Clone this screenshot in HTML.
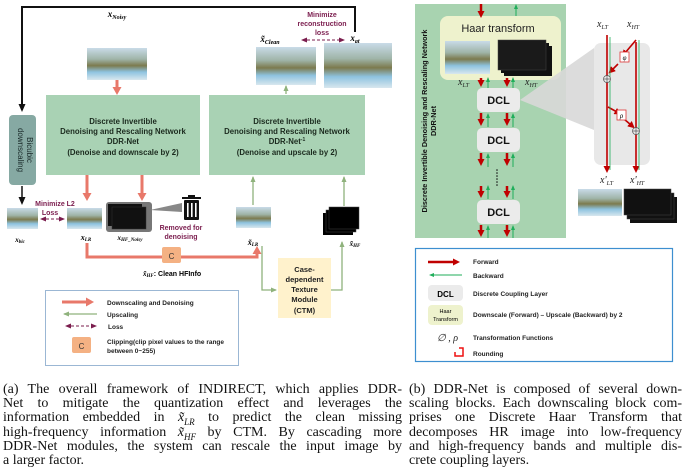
<!DOCTYPE html>
<html><head><meta charset="utf-8"><style>
html,body{margin:0;padding:0;background:#fff;width:685px;height:469px;overflow:hidden;position:relative}
svg{position:absolute;left:0;top:0}
.cap{position:absolute;font-family:"Liberation Serif",serif;font-size:14px;line-height:14.2px;color:#111}
.cap div{text-align:justify;text-align-last:justify;white-space:nowrap;height:14.2px}
.cap div.l{text-align-last:left}
.cap i{font-style:italic}
</style></head><body>
<svg width="685" height="469" viewBox="0 0 685 469" font-family="Liberation Sans, sans-serif">
<defs>
<linearGradient id="ls" x1="0" y1="0" x2="0" y2="1">
<stop offset="0" stop-color="#c9dbe8"/><stop offset="0.35" stop-color="#9fb4a8"/><stop offset="0.55" stop-color="#7c7a4e"/><stop offset="0.75" stop-color="#8ec3e0"/><stop offset="1" stop-color="#d8e7ee"/>
</linearGradient>
<marker id="ar" markerUnits="userSpaceOnUse" markerWidth="10" markerHeight="10" refX="2" refY="5" orient="auto"><path d="M0,0.5L8,5L0,9.5z" fill="#e8786a"/></marker>
<marker id="ag" markerUnits="userSpaceOnUse" markerWidth="6" markerHeight="6" refX="5" refY="3" orient="auto"><path d="M0,0.5L6,3L0,5.5z" fill="#8fb27c"/></marker>
<marker id="ak" markerUnits="userSpaceOnUse" markerWidth="8" markerHeight="8" refX="6" refY="4" orient="auto"><path d="M0,0.5L8,4L0,7.5z" fill="#111"/></marker>
<marker id="ap" markerUnits="userSpaceOnUse" markerWidth="6" markerHeight="6" refX="5" refY="3" orient="auto"><path d="M0,0.5L6,3L0,5.5z" fill="#7b1d4e"/></marker>
<marker id="ap2" markerUnits="userSpaceOnUse" markerWidth="6" markerHeight="6" refX="1" refY="3" orient="auto"><path d="M6,0.5L0,3L6,5.5z" fill="#7b1d4e"/></marker>
<marker id="rr" markerUnits="userSpaceOnUse" markerWidth="7" markerHeight="7" refX="2" refY="3.5" orient="auto"><path d="M0,0L7,3.5L0,7z" fill="#c00000"/></marker>
<marker id="gg" markerUnits="userSpaceOnUse" markerWidth="5" markerHeight="5" refX="4" refY="2.5" orient="auto"><path d="M0,0.5L5,2.5L0,4.5z" fill="#1fae5a"/></marker>
</defs>

<!-- LEFT PANEL -->
<path d="M355,32 V7 H22 V110" fill="none" stroke="#111" stroke-width="2" marker-end="url(#ak)"/>
<rect x="9" y="115" width="27" height="70" rx="4" fill="#86a9a3"/>
<text transform="translate(27,150) rotate(90)" font-size="8" text-anchor="middle" fill="#1a2a2a">Bicubic</text>
<text transform="translate(18,150) rotate(90)" font-size="8" text-anchor="middle" fill="#1a2a2a">downscaling</text>
<line x1="22" y1="186" x2="22" y2="203" stroke="#111" stroke-width="1.5" marker-end="url(#ak)"/>

<text x="117" y="17" font-family="Liberation Serif,serif" font-weight="bold" font-style="italic" font-size="9" text-anchor="middle">x<tspan font-size="6" dy="2">Noisy</tspan></text>
<rect x="87" y="48" width="60" height="32" fill="url(#ls)"/>
<line x1="117" y1="80" x2="117" y2="89" stroke="#e8786a" stroke-width="3" marker-end="url(#ar)"/>

<rect x="46" y="95" width="154" height="80" fill="#a9d2b4"/>
<g font-size="7.8" font-weight="bold" text-anchor="middle" fill="#1b2a1e">
<text x="123" y="124">Discrete Invertible</text>
<text x="123" y="134">Denoising and Rescaling Network</text>
<text x="123" y="144">DDR-Net</text>
<text x="123" y="155">(Denoise and downscale by 2)</text>
</g>
<rect x="209" y="95" width="156" height="80" fill="#a9d2b4"/>
<g font-size="7.8" font-weight="bold" text-anchor="middle" fill="#1b2a1e">
<text x="287" y="124">Discrete Invertible</text>
<text x="287" y="134">Denoising and Rescaling Network</text>
<text x="287" y="144">DDR-Net<tspan font-size="5" dy="-3">-1</tspan></text>
<text x="287" y="155">(Denoise and upscale by 2)</text>
</g>

<text x="322" y="17" font-size="7" font-weight="bold" fill="#7b1d4e" text-anchor="middle">Minimize</text>
<text x="322" y="26" font-size="7" font-weight="bold" fill="#7b1d4e" text-anchor="middle">reconstruction</text>
<text x="322" y="35" font-size="7" font-weight="bold" fill="#7b1d4e" text-anchor="middle">loss</text>
<line x1="302" y1="40" x2="344" y2="40" stroke="#7b1d4e" stroke-width="1" stroke-dasharray="3,2" marker-end="url(#ap)" marker-start="url(#ap2)"/>
<text x="270" y="42" font-family="Liberation Serif,serif" font-weight="bold" font-style="italic" font-size="9" text-anchor="middle">x̃<tspan font-size="6" dy="2">Clean</tspan></text>
<text x="355" y="41" font-family="Liberation Serif,serif" font-weight="bold" font-style="italic" font-size="9" text-anchor="middle">x<tspan font-size="6" dy="2">gt</tspan></text>
<rect x="256" y="47" width="60" height="38" fill="url(#ls)"/>
<rect x="324" y="43" width="68" height="45" fill="url(#ls)"/>
<line x1="286" y1="94" x2="286" y2="86" stroke="#8fb27c" stroke-width="1.3" marker-end="url(#ag)"/>

<line x1="87" y1="175" x2="87" y2="195" stroke="#e8786a" stroke-width="3" marker-end="url(#ar)"/>
<line x1="142" y1="175" x2="142" y2="195" stroke="#e8786a" stroke-width="3" marker-end="url(#ar)"/>

<text x="55" y="206" font-size="7" font-weight="bold" fill="#7b1d4e" text-anchor="middle">Minimize L2</text>
<text x="50" y="215" font-size="7" font-weight="bold" fill="#7b1d4e" text-anchor="middle">Loss</text>
<line x1="41" y1="219" x2="64" y2="219" stroke="#7b1d4e" stroke-width="1" stroke-dasharray="3,2" marker-end="url(#ap)" marker-start="url(#ap2)"/>
<rect x="7" y="208" width="31" height="21" fill="url(#ls)"/>
<text x="20" y="242" font-family="Liberation Serif,serif" font-weight="bold" font-style="italic" font-size="7" text-anchor="middle">x<tspan font-size="5" dy="1">bic</tspan></text>
<rect x="67" y="208" width="35" height="21" fill="url(#ls)"/>
<text x="86" y="240" font-family="Liberation Serif,serif" font-weight="bold" font-style="italic" font-size="8" text-anchor="middle">x<tspan font-size="5" dy="1">LR</tspan></text>
<rect x="106" y="202" width="46" height="30" rx="3" fill="#777"/>
<rect x="108" y="204" width="34" height="22" fill="#111"/>
<rect x="112" y="207" width="34" height="22" fill="#111" stroke="#333" stroke-width=".5"/>
<text x="130" y="240" font-family="Liberation Serif,serif" font-weight="bold" font-style="italic" font-size="7" text-anchor="middle">x<tspan font-size="5" dy="1">HF_Noisy</tspan></text>
<path d="M150,210 L182,203 L182,212 Z" fill="#888"/>
<g fill="#111"><rect x="182" y="197" width="19" height="2"/><rect x="188" y="195" width="7" height="2"/><rect x="184" y="200" width="15" height="20" rx="1"/></g>
<g fill="#fff"><rect x="187" y="203" width="1.6" height="14"/><rect x="191" y="203" width="1.6" height="14"/><rect x="195" y="203" width="1.6" height="14"/></g>
<text x="181" y="230" font-size="7" font-weight="bold" fill="#7b1d4e" text-anchor="middle">Removed for</text>
<text x="181" y="239" font-size="7" font-weight="bold" fill="#7b1d4e" text-anchor="middle">denoising</text>

<path d="M87,243 V257 H257 V252" fill="none" stroke="#e8786a" stroke-width="3" marker-end="url(#ar)"/>
<rect x="162" y="247" width="19" height="16" rx="2" fill="#f4b183"/>
<text x="171.5" y="259" font-size="8" text-anchor="middle" fill="#333">C</text>
<text x="143" y="276" font-family="Liberation Serif,serif" font-style="italic" font-weight="bold" font-size="7">x̃<tspan font-size="5" dy="1">HF</tspan><tspan dy="-1" font-family="Liberation Sans,sans-serif" font-style="normal">: Clean HFInfo</tspan></text>

<rect x="236" y="207" width="35" height="21" fill="url(#ls)"/>
<text x="253" y="245" font-family="Liberation Serif,serif" font-weight="bold" font-style="italic" font-size="8" text-anchor="middle">x̃<tspan font-size="5" dy="1">LR</tspan></text>
<line x1="253" y1="205" x2="253" y2="177" stroke="#8fb27c" stroke-width="1.3" marker-end="url(#ag)"/>
<line x1="344" y1="206" x2="344" y2="177" stroke="#8fb27c" stroke-width="1.3" marker-end="url(#ag)"/>
<rect x="323" y="213" width="30" height="22" fill="#000"/>
<rect x="326" y="210" width="30" height="22" fill="#000" stroke="#444" stroke-width=".5"/>
<rect x="329" y="207" width="30" height="22" fill="#000" stroke="#444" stroke-width=".5"/>
<text x="355" y="246" font-family="Liberation Serif,serif" font-weight="bold" font-style="italic" font-size="7" text-anchor="middle">x̃<tspan font-size="5" dy="1">HF</tspan></text>

<path d="M262,246 V290 H276" fill="none" stroke="#8fb27c" stroke-width="1.3" marker-end="url(#ag)"/>
<path d="M331,290 H342 V242" fill="none" stroke="#8fb27c" stroke-width="1.3" marker-end="url(#ag)"/>
<rect x="278" y="258" width="53" height="60" fill="#fff2cc"/>
<g font-size="7.5" font-weight="bold" text-anchor="middle" fill="#222">
<text x="304.5" y="272">Case-</text><text x="304.5" y="282">dependent</text><text x="304.5" y="292">Texture</text><text x="304.5" y="302">Module</text><text x="304.5" y="313">(CTM)</text>
</g>

<rect x="45.5" y="290.5" width="193" height="75" fill="#fff" stroke="#9bb7d4" stroke-width="1"/>
<line x1="62" y1="302" x2="88" y2="302" stroke="#e8786a" stroke-width="3" marker-end="url(#ar)"/>
<line x1="97" y1="314" x2="64" y2="314" stroke="#8fb27c" stroke-width="1.3" marker-end="url(#ag)"/>
<line x1="66" y1="326" x2="96" y2="326" stroke="#7b1d4e" stroke-width="1" stroke-dasharray="3,2" marker-end="url(#ap)" marker-start="url(#ap2)"/>
<rect x="72" y="337" width="19" height="16" rx="2" fill="#f4b183"/>
<text x="81.5" y="349" font-size="8" text-anchor="middle" fill="#333">C</text>
<g font-size="6.5" font-weight="bold" fill="#222">
<text x="107" y="305">Downscaling and Denoising</text>
<text x="107" y="317">Upscaling</text>
<text x="108" y="329">Loss</text>
<text x="107" y="344">Clipping(clip pixel values to the range</text>
<text x="107" y="353">between 0~255)</text>
</g>

<!-- RIGHT PANEL -->
<rect x="415" y="4" width="151" height="234" fill="#a8d3b0"/>
<text transform="translate(427,121) rotate(-90)" font-size="7.3" font-weight="bold" text-anchor="middle" fill="#111">Discrete Invertible Denoising and Rescaling Network</text>
<text transform="translate(436,121) rotate(-90)" font-size="7.3" font-weight="bold" text-anchor="middle" fill="#111">DDR-Net</text>
<rect x="440" y="16" width="121" height="64" rx="8" fill="#eef2cd"/>
<text x="498" y="32" font-size="11" text-anchor="middle" fill="#222">Haar transform</text>
<rect x="445" y="41" width="45" height="33" fill="url(#ls)"/>
<rect x="504" y="46" width="48" height="30" fill="#111"/>
<rect x="501" y="43" width="48" height="30" fill="#111"/>
<rect x="498" y="40" width="48" height="30" fill="#1a1a1a" stroke="#444" stroke-width=".5"/>
<line x1="481" y1="4" x2="481" y2="13" stroke="#c00000" stroke-width="2.5" marker-end="url(#rr)"/>
<line x1="516" y1="16" x2="516" y2="5" stroke="#1fae5a" stroke-width="1" marker-end="url(#gg)"/>
<text x="458" y="85" font-family="Liberation Serif,serif" font-style="italic" font-size="10" fill="#222">x<tspan font-size="6" dy="2">LT</tspan></text>
<text x="525" y="85" font-family="Liberation Serif,serif" font-style="italic" font-size="10" fill="#222">x<tspan font-size="6" dy="2">HT</tspan></text>
<path d="M520,100 L594,48 L594,130 Z" fill="#d8d8d8" opacity=".9"/>
<g fill="#ebebeb">
<rect x="477" y="88" width="43" height="24" rx="5"/>
<rect x="477" y="128" width="43" height="24" rx="5"/>
<rect x="477" y="200" width="43" height="24" rx="5"/>
</g>
<g font-size="11" font-weight="bold" text-anchor="middle" fill="#111">
<text x="498.5" y="104">DCL</text><text x="498.5" y="144">DCL</text><text x="498.5" y="216">DCL</text>
</g>
<g stroke="#c00000" stroke-width="2.5">
<line x1="481" y1="78" x2="481" y2="82" marker-end="url(#rr)"/><line x1="507" y1="78" x2="507" y2="82" marker-end="url(#rr)"/>
<line x1="481" y1="113" x2="481" y2="121" marker-end="url(#rr)"/><line x1="507" y1="113" x2="507" y2="121" marker-end="url(#rr)"/>
<line x1="481" y1="153" x2="481" y2="161" marker-end="url(#rr)"/><line x1="507" y1="153" x2="507" y2="161" marker-end="url(#rr)"/>
<line x1="481" y1="186" x2="481" y2="193" marker-end="url(#rr)"/><line x1="507" y1="186" x2="507" y2="193" marker-end="url(#rr)"/>
<line x1="481" y1="225" x2="481" y2="232" marker-end="url(#rr)"/><line x1="507" y1="225" x2="507" y2="232" marker-end="url(#rr)"/>
</g>
<g stroke="#1fae5a" stroke-width="1">
<line x1="488" y1="88" x2="488" y2="78" marker-end="url(#gg)"/><line x1="513" y1="88" x2="513" y2="78" marker-end="url(#gg)"/>
<line x1="488" y1="127" x2="488" y2="114" marker-end="url(#gg)"/><line x1="513" y1="127" x2="513" y2="114" marker-end="url(#gg)"/>
<line x1="488" y1="167" x2="488" y2="154" marker-end="url(#gg)"/><line x1="513" y1="167" x2="513" y2="154" marker-end="url(#gg)"/>
<line x1="488" y1="199" x2="488" y2="186" marker-end="url(#gg)"/><line x1="513" y1="199" x2="513" y2="186" marker-end="url(#gg)"/>
<line x1="488" y1="238" x2="488" y2="226" marker-end="url(#gg)"/><line x1="513" y1="238" x2="513" y2="226" marker-end="url(#gg)"/>
</g>
<g fill="#111"><circle cx="497" cy="170" r=".8"/><circle cx="497" cy="173" r=".8"/><circle cx="497" cy="176" r=".8"/><circle cx="497" cy="179" r=".8"/><circle cx="497" cy="182" r=".8"/><circle cx="497" cy="185" r=".8"/></g>

<rect x="594" y="43" width="56" height="122" rx="7" fill="#e8e8e8"/>
<text x="597" y="27" font-family="Liberation Serif,serif" font-style="italic" font-size="10" fill="#222">x<tspan font-size="6" dy="2">LT</tspan></text>
<text x="627" y="27" font-family="Liberation Serif,serif" font-style="italic" font-size="10" fill="#222">x<tspan font-size="6" dy="2">HT</tspan></text>
<g stroke="#c00000" stroke-width="1.6" fill="none">
<line x1="607" y1="35" x2="607" y2="168" marker-end="url(#rr)"/>
<line x1="636" y1="42" x2="636" y2="168" marker-end="url(#rr)"/>
<path d="M636,40 L625,53" marker-end="url(#rr)"/>
<path d="M618,64 L612,70" marker-end="url(#rr)"/>
<path d="M608,107 L617,112" marker-end="url(#rr)"/>
<path d="M624,119 L631,125" marker-end="url(#rr)"/>
</g>
<g stroke="#1fae5a" stroke-width=".8"><line x1="610" y1="170" x2="610" y2="37"/><line x1="639" y1="170" x2="639" y2="40"/></g>
<rect x="620" y="52" width="9" height="10" fill="#fff" stroke="#d33" stroke-width=".8"/>
<text x="624.5" y="60" font-size="7" font-family="Liberation Serif,serif" font-style="italic" text-anchor="middle">φ</text>
<rect x="617" y="110" width="9" height="10" fill="#fff" stroke="#d33" stroke-width=".8"/>
<text x="621.5" y="118" font-size="7" font-family="Liberation Serif,serif" font-style="italic" text-anchor="middle">ρ</text>
<circle cx="607" cy="79" r="3.5" fill="#eee" stroke="#555" stroke-width=".7"/><path d="M603.5,79H610.5M607,75.5V82.5" stroke="#555" stroke-width=".7"/>
<circle cx="636" cy="131" r="3.5" fill="#eee" stroke="#555" stroke-width=".7"/><path d="M632.5,131H639.5M636,127.5V134.5" stroke="#555" stroke-width=".7"/>
<text x="600" y="183" font-family="Liberation Serif,serif" font-style="italic" font-size="10" fill="#222">x'<tspan font-size="6" dy="2">LT</tspan></text>
<text x="630" y="183" font-family="Liberation Serif,serif" font-style="italic" font-size="10" fill="#222">x'<tspan font-size="6" dy="2">HT</tspan></text>
<rect x="578" y="189" width="44" height="27" fill="url(#ls)"/>
<rect x="630" y="197" width="47" height="26" fill="#111"/>
<rect x="627" y="193" width="47" height="26" fill="#111" stroke="#444" stroke-width=".5"/>
<rect x="624" y="189" width="47" height="26" fill="#111" stroke="#444" stroke-width=".5"/>

<rect x="415.5" y="248.5" width="257" height="113" fill="#fff" stroke="#3d8fd0" stroke-width="1.2"/>
<line x1="428" y1="262" x2="455" y2="262" stroke="#c00000" stroke-width="2.5" marker-end="url(#rr)"/>
<line x1="462" y1="275" x2="430" y2="275" stroke="#1fae5a" stroke-width="1" marker-end="url(#gg)"/>
<rect x="428" y="285" width="35" height="16" rx="4" fill="#ebebeb"/>
<text x="445.5" y="297" font-size="8" font-weight="bold" text-anchor="middle">DCL</text>
<rect x="428" y="305" width="35" height="20" rx="4" fill="#eef2cd"/>
<text x="445.5" y="313" font-size="5.5" text-anchor="middle">Haar</text>
<text x="445.5" y="321" font-size="5.5" text-anchor="middle">Transform</text>
<text x="437" y="341" font-family="Liberation Serif,serif" font-style="italic" font-size="10" fill="#222">∅ , ρ</text>
<path d="M459,348 H463 V356 H455 V352" fill="none" stroke="#e11" stroke-width="1.5"/>
<g font-size="6.5" font-weight="bold" fill="#222">
<text x="473" y="264">Forward</text>
<text x="473" y="278">Backward</text>
<text x="473" y="296">Discrete Coupling Layer</text>
<text x="473" y="317">Downscale (Forward) – Upscale (Backward) by 2</text>
<text x="473" y="340">Transformation Functions</text>
<text x="473" y="356">Rounding</text>
</g>
</svg>

<div class="cap" style="left:3px;top:383px;width:399px">
<div>(a) The overall framework of INDIRECT, which applies DDR-</div>
<div>Net to mitigate the quantization effect and leverages the</div>
<div>information embedded in <i>x̃<sub style="font-size:9px">LR</sub></i> to predict the clean missing</div>
<div>high-frequency information <i>x̃<sub style="font-size:9px">HF</sub></i> by CTM. By cascading more</div>
<div>DDR-Net modules, the system can rescale the input image by</div>
<div class="l">a larger factor.</div>
</div>
<div class="cap" style="left:409px;top:383px;width:273px">
<div>(b) DDR-Net is composed of several down-</div>
<div>scaling blocks. Each downscaling block com-</div>
<div>prises one Discrete Haar Transform that</div>
<div>decomposes HR image into low-frequency</div>
<div>and high-frequency bands and multiple dis-</div>
<div class="l">crete coupling layers.</div>
</div>
</body></html>
